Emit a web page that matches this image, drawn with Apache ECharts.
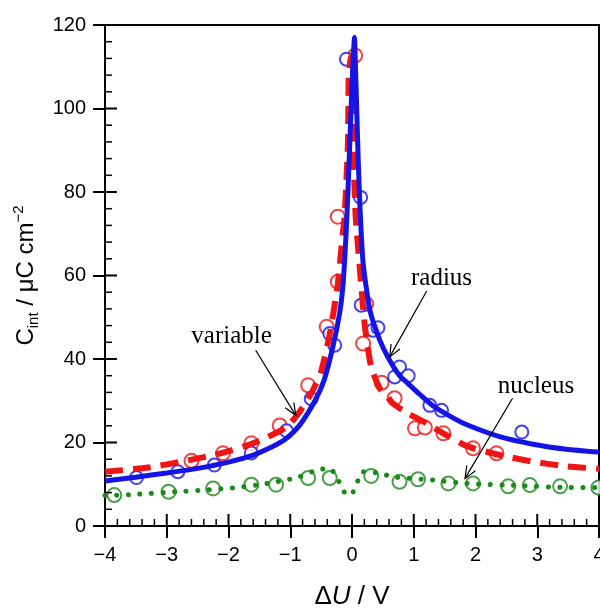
<!DOCTYPE html>
<html>
<head>
<meta charset="utf-8">
<script src="https://cdn.jsdelivr.net/npm/echarts@6/dist/echarts.min.js"></script>
<style>
  html, body { margin: 0; padding: 0; background: #fff; }
  #main { width: 600px; height: 616px; }
</style>
</head>
<body>
<div id="main"></div>
<script>
// fitted curves
var radiusX = [-4.0, -3.5, -3.0, -2.5, -2.0, -1.6, -1.3, -1.06, -0.85, -0.6, -0.45, -0.31, -0.2, -0.15, -0.11, -0.08, -0.04, -0.01, 0.02, 0.04, 0.06, 0.08, 0.1, 0.13, 0.18, 0.29, 0.45, 0.58, 0.77, 0.88, 1.1, 1.31, 1.6, 1.85, 2.39, 2.93, 3.47, 4.0];
var radiusY = [10.8, 11.7, 12.7, 13.8, 15.3, 17.0, 18.9, 21.0, 24.1, 30.0, 35.0, 42.9, 51.0, 57.0, 66.0, 75.0, 90.0, 102.0, 112.0, 117.0, 108.0, 98.0, 88.0, 76.0, 63.0, 51.7, 44.5, 40.5, 36.0, 34.5, 31.5, 28.8, 26.2, 24.3, 21.4, 19.6, 18.4, 17.7];

var variableX = [-4.0, -3.3, -2.7, -2.1, -1.55, -1.06, -0.85, -0.66, -0.5, -0.36, -0.23, -0.15, -0.12, -0.065, -0.053, -0.02, 0.016, 0.025, 0.035, 0.06, 0.125, 0.21, 0.31, 0.45, 0.56, 0.66, 0.9, 1.21, 1.5, 1.85, 2.39, 2.93, 3.47, 4.0];
var variableY = [13.0, 14.0, 15.6, 17.5, 20.1, 23.7, 27.3, 31.8, 37.0, 46.0, 58.0, 70.0, 74.0, 92.0, 108.0, 112.0, 113.0, 95.0, 84.0, 74.0, 62.0, 47.7, 38.1, 33.0, 31.2, 29.4, 27.0, 24.6, 22.0, 19.2, 17.0, 15.4, 14.3, 13.7];

var nucleusX = [-4.0, -3.6, -2.74, -2.41, -2.04, -1.87, -1.36, -1.01, -0.85, -0.55, -0.36, -0.17, -0.09, 0.02, 0.1, 0.18, 0.48, 0.64, 1.31, 1.85, 2.69, 3.53, 4.0];
var nucleusY = [7.3, 7.5, 8.3, 8.6, 9.0, 9.2, 10.2, 11.2, 11.8, 13.5, 13.8, 9.5, 7.4, 8.2, 11.0, 13.0, 12.6, 11.8, 11.0, 10.2, 9.7, 9.2, 9.2];

// measured points (open circles)
var radiusPtsX = [-3.49, -2.82, -2.23, -1.63, -1.06, -0.66, -0.36, -0.28, -0.09, 0.14, 0.15, 0.34, 0.42, 0.69, 0.77, 0.91, 1.26, 1.45, 2.75];
var radiusPtsY = [11.6, 13.0, 14.6, 17.5, 22.8, 30.5, 46.1, 43.3, 111.8, 78.7, 52.9, 46.9, 47.5, 35.7, 38.1, 36.0, 28.9, 27.7, 22.5];

var variablePtsX = [-2.6, -2.09, -1.63, -1.17, -0.71, -0.41, -0.23, -0.23, 0.05, 0.23, 0.18, 0.48, 0.69, 1.02, 1.18, 1.48, 1.96, 2.34];
var variablePtsY = [15.6, 17.4, 19.8, 24.1, 33.7, 47.7, 58.5, 74.1, 112.7, 53.2, 43.7, 34.3, 30.6, 23.4, 23.6, 22.2, 18.6, 17.4];

var nucleusPtsX = [-3.85, -2.97, -2.25, -1.63, -1.23, -0.71, -0.36, 0.31, 0.77, 1.07, 1.56, 1.96, 2.53, 2.88, 3.37, 3.99];
var nucleusPtsY = [7.4, 8.2, 9.0, 9.9, 9.9, 11.5, 11.5, 12.0, 10.6, 11.2, 10.2, 10.2, 9.5, 9.8, 9.5, 9.2];

// axis ranges and tick steps
var xMin = -4, xMax = 4, xStep = 1, xMinorDiv = 5;
var yMin = 0, yMax = 120, yStep = 20, yMinorDiv = 5;

// annotations: label position, arrow start, arrow tip (data coords)
var noteNames = ['variable', 'radius', 'nucleus'];
var noteText = [[-1.95, 45.4], [1.45, 59.4], [2.98, 33.5]];
var noteFrom = [[-1.56, 42.1], [1.21, 56.3], [2.6, 30.6]];
var noteTo = [[-0.91, 26.5], [0.61, 40.5], [1.83, 11.4]];

var BLUE = '#1414e6', RED = '#f01414', GREEN = '#1a8a1a';

function zip(xs, ys) {
    return xs.map(function(x, i) { return [x, ys[i]]; });
}
function minus(v) {
    return v < 0 ? '\u2212' + (-v) : String(v);
}

var chart = echarts.init(document.getElementById('main'));

var option = {
    animation: false,
    grid: {
        left: 105, right: 1, top: 25, bottom: 90,
        outerBoundsMode: 'none', containLabel: false,
        show: true, borderColor: '#000', borderWidth: 2
    },
    xAxis: {
        type: 'value', min: xMin, max: xMax, interval: xStep,
        axisLine: { onZero: false, lineStyle: { color: '#000', width: 2 } },
        axisTick: { show: true, length: 12, lineStyle: { color: '#000', width: 2 } },
        axisLabel: { margin: 19, color: '#000', fontSize: 20, fontFamily: 'Liberation Sans', formatter: minus },
        splitLine: { show: false },
        name: '{d|\u0394}{u|U}{d| / V}',
        nameLocation: 'middle', nameGap: 58,
        nameTextStyle: {
            rich: {
                d: { fontSize: 26, fontFamily: 'Liberation Sans', color: '#000' },
                u: { fontSize: 26, fontFamily: 'Liberation Sans', fontStyle: 'italic', color: '#000' }
            }
        }
    },
    yAxis: {
        type: 'value', min: yMin, max: yMax, interval: yStep,
        axisLine: { show: true, onZero: false, lineStyle: { color: '#000', width: 2 } },
        axisTick: { show: true, length: 12, lineStyle: { color: '#000', width: 2 } },
        axisLabel: { margin: 19, color: '#000', fontSize: 20, fontFamily: 'Liberation Sans' },
        splitLine: { show: false },
        name: '{c|C}{s|int}{n| / \u03bcC cm}{p|\u22122}',
        nameLocation: 'middle', nameGap: 62,
        nameTextStyle: {
            rich: {
                c: { fontSize: 24, fontFamily: 'Liberation Sans', color: '#000', lineHeight: 30 },
                n: { fontSize: 24, fontFamily: 'Liberation Sans', color: '#000', lineHeight: 30 },
                s: { fontSize: 15, fontFamily: 'Liberation Sans', color: '#000', verticalAlign: 'bottom', lineHeight: 15 },
                p: { fontSize: 15, fontFamily: 'Liberation Sans', color: '#000', verticalAlign: 'top', lineHeight: 15 }
            }
        }
    },
    series: [{
        name: 'nucleus', type: 'line', data: zip(nucleusX, nucleusY),
        showSymbol: false, smooth: 0.2,
        lineStyle: { color: GREEN, width: 5, type: [0.1, 11.5], cap: 'round' }
    }, {
        name: 'variable', type: 'line', data: zip(variableX, variableY),
        showSymbol: false, smooth: 0.2,
        lineStyle: { color: RED, width: 6, type: [18, 10] }
    }, {
        name: 'radius', type: 'line', data: zip(radiusX, radiusY),
        showSymbol: false, smooth: 0.2,
        lineStyle: { color: BLUE, width: 5 }
    }, {
        type: 'scatter', data: zip(nucleusPtsX, nucleusPtsY),
        symbol: 'emptyCircle', symbolSize: 14,
        itemStyle: { color: GREEN, borderColor: GREEN, borderWidth: 1.3 }
    }, {
        type: 'scatter', data: zip(variablePtsX, variablePtsY),
        symbol: 'emptyCircle', symbolSize: 14,
        itemStyle: { color: RED, borderColor: RED, borderWidth: 1.3 }
    }, {
        type: 'scatter', data: zip(radiusPtsX, radiusPtsY),
        symbol: 'emptyCircle', symbolSize: 13,
        itemStyle: { color: BLUE, borderColor: BLUE, borderWidth: 1.3 }
    }]
};
chart.setOption(option);

function px(pt) {
    return chart.convertToPixel({ xAxisIndex: 0, yAxisIndex: 0 }, pt);
}

var els = [];

// inward major + minor ticks, placed through the axis scales
var i, v, p, len;
var nx = (xMax - xMin) / xStep * xMinorDiv;
for (i = 0; i <= nx; i++) {
    v = xMin + i * xStep / xMinorDiv;
    p = px([v, yMin]);
    len = i % xMinorDiv === 0 ? 12 : 7;
    els.push({ type: 'line', z: 50, shape: { x1: p[0], y1: p[1], x2: p[0], y2: p[1] - len },
        style: { stroke: '#000', lineWidth: i % xMinorDiv === 0 ? 2 : 1.5 } });
}
var ny = (yMax - yMin) / yStep * yMinorDiv;
for (i = 0; i <= ny; i++) {
    v = yMin + i * yStep / yMinorDiv;
    p = px([xMin, v]);
    len = i % yMinorDiv === 0 ? 12 : 7;
    els.push({ type: 'line', z: 50, shape: { x1: p[0], y1: p[1], x2: p[0] + len, y2: p[1] },
        style: { stroke: '#000', lineWidth: i % yMinorDiv === 0 ? 2 : 1.5 } });
}

// labels + open arrows
noteNames.forEach(function(name, k) {
    var t = px(noteText[k]);
    var a = px(noteFrom[k]);
    var b = px(noteTo[k]);
    els.push({
        type: 'text', x: t[0], y: t[1], z: 100,
        style: { text: name, fill: '#000', font: '25px "Liberation Serif"', textAlign: 'center', textVerticalAlign: 'middle' }
    });
    els.push({
        type: 'line', z: 100,
        shape: { x1: a[0], y1: a[1], x2: b[0], y2: b[1] },
        style: { stroke: '#000', lineWidth: 1.2 }
    });
    var ang = Math.atan2(b[1] - a[1], b[0] - a[0]);
    var hl = 13, spread = 0.4;
    els.push({
        type: 'polyline', z: 100,
        shape: { points: [
            [b[0] - hl * Math.cos(ang - spread), b[1] - hl * Math.sin(ang - spread)],
            [b[0], b[1]],
            [b[0] - hl * Math.cos(ang + spread), b[1] - hl * Math.sin(ang + spread)]
        ] },
        style: { stroke: '#000', lineWidth: 1.2, fill: null }
    });
});
chart.setOption({ graphic: els });
</script>
</body>
</html>
